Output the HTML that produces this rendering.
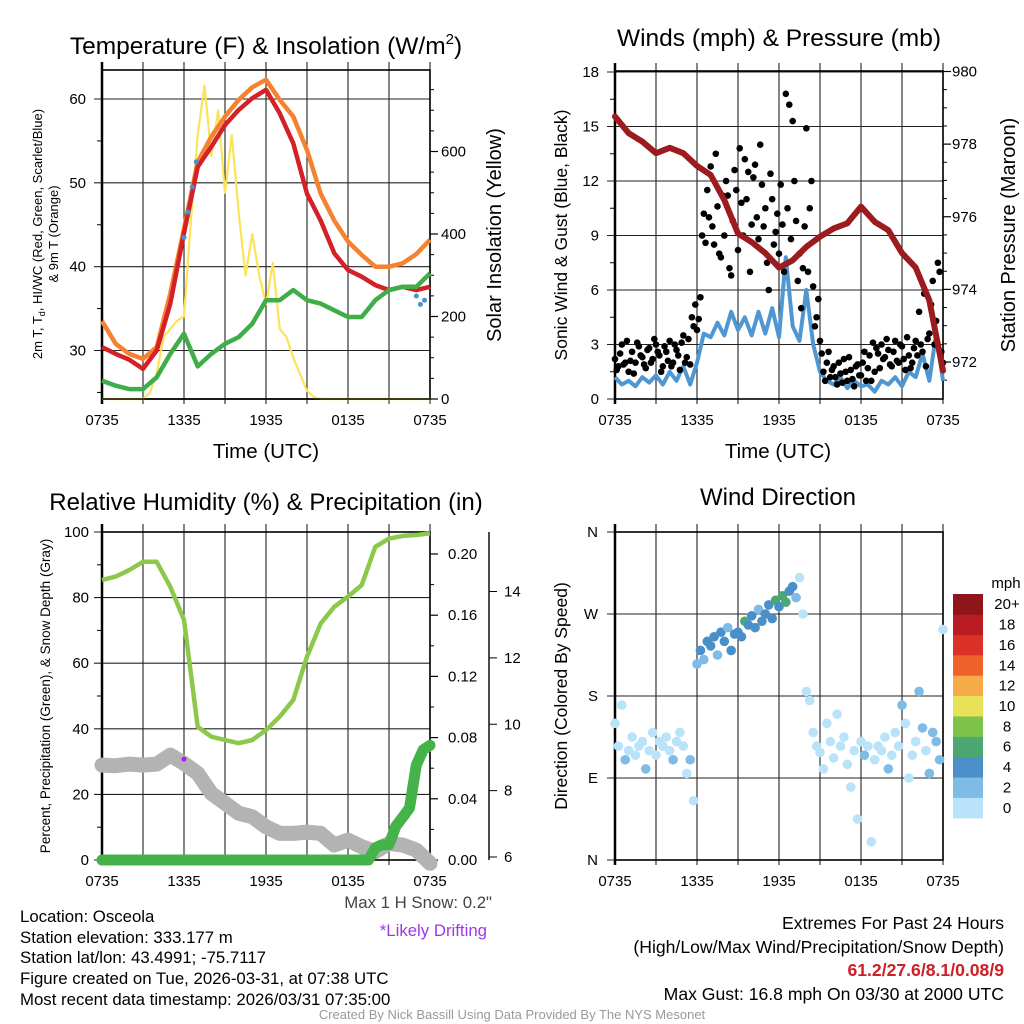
<!DOCTYPE html>
<html><head><meta charset="utf-8"><style>
html,body{margin:0;padding:0;background:#fff;}
svg{display:block;font-family:"Liberation Sans",Arial,sans-serif;}
</style></head><body>
<svg id="chart" width="1024" height="1024" viewBox="0 0 1024 1024" xmlns="http://www.w3.org/2000/svg">
<rect x="0" y="0" width="1024" height="1024" fill="#fff"/>
<!-- titles -->
<text x="266" y="54" font-size="24.5" text-anchor="middle">Temperature (F) &amp; Insolation (W/m<tspan font-size="15" dy="-10">2</tspan><tspan dy="10">)</tspan></text>
<text x="779" y="46" font-size="24.5" text-anchor="middle">Winds (mph) &amp; Pressure (mb)</text>
<text x="266" y="510" font-size="24" text-anchor="middle">Relative Humidity (%) &amp; Precipitation (in)</text>
<text x="778" y="505" font-size="24" text-anchor="middle">Wind Direction</text>
<!-- axis titles -->
<text transform="translate(42,234) rotate(-90)" font-size="13" text-anchor="middle">2m T, T<tspan font-size="9" dy="3">d</tspan><tspan dy="-3">, HI/WC (Red, Green, Scarlet/Blue)</tspan></text>
<text transform="translate(58,234) rotate(-90)" font-size="13" text-anchor="middle">&amp; 9m T (Orange)</text>
<text transform="translate(501,235) rotate(-90)" font-size="20" text-anchor="middle">Solar Insolation (Yellow)</text>
<text x="266" y="458" font-size="20.5" text-anchor="middle">Time (UTC)</text>
<text transform="translate(567,235) rotate(-90)" font-size="17.5" text-anchor="middle">Sonic Wind &amp; Gust (Blue, Black)</text>
<text transform="translate(1015,235) rotate(-90)" font-size="20" text-anchor="middle">Station Pressure (Maroon)</text>
<text x="778" y="458" font-size="20.5" text-anchor="middle">Time (UTC)</text>
<text transform="translate(50,696) rotate(-90)" font-size="13.5" text-anchor="middle">Percent, Precipitation (Green), &amp; Snow Depth (Gray)</text>
<text transform="translate(567,696) rotate(-90)" font-size="17.5" text-anchor="middle">Direction (Colored By Speed)</text>
<!-- footer -->
<g font-size="16.8">
<text x="20" y="922">Location: Osceola</text>
<text x="20" y="943">Station elevation: 333.177 m</text>
<text x="20" y="963">Station lat/lon: 43.4991; -75.7117</text>
<text x="20" y="984">Figure created on Tue, 2026-03-31, at 07:38 UTC</text>
<text x="20" y="1005">Most recent data timestamp: 2026/03/31 07:35:00</text>
</g>
<text x="492" y="908" font-size="16.8" fill="#444" text-anchor="end">Max 1 H Snow: 0.2"</text>
<text x="487" y="936" font-size="16.8" fill="#a235e8" text-anchor="end">*Likely Drifting</text>
<g font-size="17.6" text-anchor="end">
<text x="1004" y="929">Extremes For Past 24 Hours</text>
<text x="1004" y="953">(High/Low/Max Wind/Precipitation/Snow Depth)</text>
<text x="1004" y="976" fill="#cc1f26" font-weight="bold">61.2/27.6/8.1/0.08/9</text>
<text x="1004" y="1000">Max Gust: 16.8 mph On 03/30 at 2000 UTC</text>
</g>
<text x="512" y="1019" font-size="13" fill="#999" text-anchor="middle">Created By Nick Bassill Using Data Provided By The NYS Mesonet</text>
</svg>
<script>
// ---------- DATA ----------
const xTickLabels = ["0735","1335","1935","0135","0735"];
const hoursHourly = [0,1,2,3,4,5,6,7,8,9,10,11,12,13,14,15,16,17,18,19,20,21,22,23,24];
const temp2m = [30.4,29.6,28.9,27.8,30.0,35.6,44.0,51.9,54.3,56.9,58.7,60.1,61.1,58.3,54.7,48.7,45.5,41.6,39.6,38.8,37.8,37.2,37.6,37.2,37.6];
const temp9m = [33.5,30.8,29.6,29.0,30.4,36.8,44.5,52.5,55.5,57.9,59.9,61.4,62.3,59.9,57.9,53.9,48.7,45.5,43.0,41.4,40.0,40.0,40.4,41.5,43.2];
const dewpoint = [26.4,25.8,25.4,25.4,26.8,29.6,32.0,28.1,29.6,30.8,31.6,33.2,36.0,36.0,37.2,36.0,35.6,34.8,34.0,34.0,36.0,37.2,37.6,37.6,39.2];
const solar = [0,0,0,0,0,0,0,15,60,150,170,190,200,430,640,760,590,700,500,640,450,300,400,300,230,330,170,150,100,60,20,5,0,0,0,0,0,0,0,0,0,0,0,0,0,0,0,0,0];
const windChillHours = [6.0,6.3,6.6,6.9,23.0,23.3,23.6];
const windChillVals = [43.5,46.5,49.5,52.5,36.5,35.5,36.0];
const tempLeftTicks = [30,40,50,60];
const solarTicks = [0,200,400,600];

const windHalfHour = [1.2,0.8,1.0,0.7,1.2,0.9,1.3,0.8,1.5,1.0,1.8,0.8,2.0,3.6,3.4,4.2,3.5,4.8,3.8,4.5,3.5,4.8,3.6,5.0,3.4,7.8,4.0,3.2,6.0,3.0,1.5,1.0,0.8,1.2,0.6,1.0,0.7,0.8,0.4,1.0,0.8,1.2,0.7,1.5,1.2,2.5,1.0,3.6,1.0];
const gustQuarter = [2.2,1.8,3.0,2.0,1.5,2.6,2.0,2.9,2.3,1.7,2.8,2.2,3.0,2.4,1.8,2.6,3.2,2.0,2.7,1.6,3.5,2.3,1.9,4.0,3.8,5.6,10.2,11.5,12.8,8.5,10.6,7.8,9.0,11.2,6.8,12.6,8.2,10.8,13.2,12.5,9.6,12.9,8.8,11.8,10.5,6.0,11.0,9.2,8.0,9.6,16.8,16.2,15.3,9.8,8.0,7.2,14.9,10.5,6.2,4.5,3.2,1.5,2.0,1.2,1.8,0.8,1.4,2.2,1.0,1.6,0.7,1.9,1.3,2.6,1.7,1.0,1.5,2.5,3.0,2.3,2.7,1.8,3.2,2.0,2.9,1.6,2.4,2.0,3.2,4.8,2.6,1.8,3.6,6.5,4.3,7.0,2.0];
const gustQuarterOffset = [1.6,2.5,1.9,3.2,2.1,1.4,3.1,2.4,1.9,2.7,2.0,3.3,2.6,1.5,2.9,2.1,1.8,3.0,2.4,3.1,2.0,3.3,4.5,5.2,4.4,9.0,8.6,10.0,9.5,13.5,8.0,11.2,12.0,7.2,9.8,11.5,13.8,9.0,11.0,7.0,12.2,10.0,14.0,9.5,7.5,12.4,8.5,10.2,11.8,7.0,10.5,8.8,12.0,6.5,5.0,9.5,7.0,12.0,4.0,5.5,2.5,1.0,2.6,1.6,1.2,2.0,0.9,1.5,2.3,1.1,1.8,1.3,2.0,1.0,2.4,3.1,2.8,1.7,2.2,3.3,1.9,2.6,2.1,3.0,2.2,3.4,1.7,2.8,2.4,3.0,5.8,3.3,5.2,3.0,7.5,2.6];
const pressure = [978.76,978.3,978.07,977.75,977.9,977.75,977.4,977.15,976.46,975.54,975.3,975.0,974.6,974.8,975.17,975.45,975.68,975.82,976.28,975.86,975.63,975.0,974.6,973.7,971.76];
const windTicks = [0,3,6,9,12,15,18];
const pressureTicks = [972,974,976,978,980];

const rh = [85.4,86.4,88.4,90.9,90.9,83.3,73.2,40.6,37.6,36.6,35.6,36.6,39.6,43.7,48.8,62.0,72.1,77.2,80.3,83.8,95.5,98.0,98.8,99.1,99.6];
const snowDepth = [8.77,8.75,8.8,8.77,8.8,9.07,8.82,8.52,7.92,7.62,7.32,7.21,6.91,6.71,6.71,6.75,6.71,6.36,6.51,6.31,6.16,6.41,6.36,6.21,5.81];
const precipHalfHour = [0,0,0,0,0,0,0,0,0,0,0,0,0,0,0,0,0,0,0,0,0,0,0,0,0,0,0,0,0,0,0,0,0,0,0,0,0,0,0,0,0.008,0.010,0.010,0.022,0.028,0.034,0.062,0.072,0.075];
const driftHour = 6.0, driftSnow = 8.95;
const rhTicks = [0,20,40,60,80,100];
const precipTicks = ["0.00","0.04","0.08","0.12","0.16","0.20"];
const snowTicks = [6,8,10,12,14];

const dirQuarter = [150,125,170,110,120,135,115,125,130,100,120,140,115,130,125,135,120,110,130,140,125,95,110,65,215,230,220,240,235,245,225,250,240,255,230,248,250,245,262,258,268,255,275,262,270,280,265,285,278,290,283,295,300,288,310,270,185,175,140,125,118,100,150,130,112,160,125,135,105,80,120,45,130,115,125,20,110,125,120,135,100,115,140,125,170,150,90,115,130,185,145,120,95,140,130,110,253];
const speedQuarter = [1.0,0.8,1.2,2.5,0.9,1.1,0.7,1.3,1.0,2.6,1.2,0.8,1.1,1.4,0.9,1.0,1.2,2.5,1.0,0.8,1.4,1.0,2.4,0.9,3.5,4.2,3.8,4.5,4.0,4.6,2.5,4.2,4.4,3.9,4.8,4.1,4.3,4.0,6.2,4.5,4.7,4.2,2.6,4.4,4.1,4.9,4.3,6.5,4.8,6.3,7.0,4.6,4.2,2.5,1.2,1.0,1.0,0.9,1.3,0.8,1.1,0.7,1.0,1.2,0.9,1.1,0.8,1.0,1.2,0.9,0.6,1.0,0.8,2.4,1.1,1.0,1.3,0.9,1.0,1.2,2.5,1.0,1.2,0.8,2.6,1.1,0.9,1.5,1.0,2.4,3.0,1.2,2.5,3.8,2.6,3.5,1.0];
const dirTickLabels = ["N","E","S","W","N"];
const speedLabels = ["0","2","4","6","8","10","12","14","16","18","20+"];
const speedColors = ["#b8e3f8","#7ebbe6","#4a8fc8","#4aa870","#7dc24a","#e8e25a","#f6ab48","#f0622c","#dc3128","#b91d23","#8e151a"];

// ---------- DRAW ----------
const svg = document.getElementById('chart');
const NS = 'http://www.w3.org/2000/svg';
function mk(tag, attrs, parent){ const e=document.createElementNS(NS,tag); for(const k in attrs) e.setAttribute(k,attrs[k]); (parent||svg).appendChild(e); return e; }
function lin(d0,d1,r0,r1){ return v => r0 + (v-d0)*(r1-r0)/(d1-d0); }
function pathD(xs, ys, fx, fy){ return xs.map((h,i)=>(i?'L':'M')+fx(h).toFixed(1)+','+fy(ys[i]).toFixed(1)).join(''); }
function seq(n, step){ return Array.from({length:n},(_,i)=>i*step); }

function frame(g, x0,x1,y0,y1, yvals, fy, leftLabels, labelX){
  for(let i=0;i<=8;i++){ const x=x0+i*(x1-x0)/8;
    const l=mk('line',{x1:x,x2:x,y1:y0-8,y2:y1+5,stroke:'#222','stroke-width':1.1},g);
      }
  yvals.forEach((v,i)=>{ const y=fy(v);
    const l=mk('line',{x1:x0-8,x2:x1,y1:y,y2:y,stroke:'#222','stroke-width':1.1},g);
     
    if(leftLabels){ const t=mk('text',{x:labelX,y:y+5,'font-size':15,'text-anchor':'end'},g); t.textContent=leftLabels[i];
        } });
  const r=mk('rect',{x:x0,y:y0,width:x1-x0,height:y1-y0,fill:'none',stroke:'#000','stroke-width':1.6},g);
   
  mk('line',{x1:x0,x2:x0,y1:y0-8,y2:y1+5,stroke:'#000','stroke-width':2.5},g);
  xTickLabels.forEach((s,i)=>{ const t=mk('text',{x:x0+i*(x1-x0)/4,y:y1+26,'font-size':15,'text-anchor':'middle'},g); t.textContent=s;
      });
}
function rightAxis(g,x,fy,vals,labels,lx,minor){
  vals.forEach((v,i)=>{ mk('line',{x1:x,x2:x+8,y1:fy(v),y2:fy(v),stroke:'#000','stroke-width':1.2},g);
    const t=mk('text',{x:lx,y:fy(v)+5,'font-size':15},g); t.textContent=labels[i];
      });
  (minor||[]).forEach(v=>mk('line',{x1:x,x2:x+4,y1:fy(v),y2:fy(v),stroke:'#000','stroke-width':1},g));
}

// Panel 1
{
  const g=mk('g',{});  
  const x0=102,x1=430,y0=70,y1=399;
  const fx=lin(0,24,x0,x1), fy=lin(30,60,350.5,99), fs=lin(0,200,399,316.5);
  frame(g,x0,x1,y0,y1,tempLeftTicks,fy,tempLeftTicks,86);
  [25,35,45,55].forEach(v=>mk('line',{x1:x0-5,x2:x0,y1:fy(v),y2:fy(v),stroke:'#000'},g));
  rightAxis(g,x1,fs,solarTicks,solarTicks,441,[50,100,150,250,300,350,450,500,550,650,700,750]);
  const sh=seq(solar.length,0.5);
  let p=mk('path',{d:pathD(sh,solar,fx,fs),fill:'none',stroke:'#fbe35a','stroke-width':2.2,'stroke-linejoin':'round'},g);
   
  p=mk('path',{d:pathD(hoursHourly,temp9m,fx,fy),fill:'none',stroke:'#f58231','stroke-width':4.5,'stroke-linejoin':'round'},g);
   
  p=mk('path',{d:pathD(hoursHourly,temp2m,fx,fy),fill:'none',stroke:'#d42027','stroke-width':4.5,'stroke-linejoin':'round'},g);
   
  p=mk('path',{d:pathD(hoursHourly,dewpoint,fx,fy),fill:'none',stroke:'#3fae49','stroke-width':4.5,'stroke-linejoin':'round'},g);
   
  windChillHours.forEach((h,i)=>{ const c=mk('circle',{cx:fx(h),cy:fy(windChillVals[i]),r:2.5,fill:'#4a90cf'},g);
      });
  mk('line',{x1:x0,x2:x1,y1:y1,y2:y1,stroke:'#000','stroke-width':1.4},g);
}
// Panel 2
{
  const g=mk('g',{});  
  const x0=615,x1=943,y0=71,y1=399;
  const fx=lin(0,24,x0,x1), fy=lin(0,18,399,72), fp=lin(972,980,362,71.5);
  frame(g,x0,x1,y0,y1,windTicks,fy,windTicks,599);
  [1.5,4.5,7.5,10.5,13.5,16.5].forEach(v=>mk('line',{x1:x0-5,x2:x0,y1:fy(v),y2:fy(v),stroke:'#000'},g));
  rightAxis(g,x1,fp,pressureTicks,pressureTicks,952,[971.5,972.5,973,973.5,974.5,975,975.5,976.5,977,977.5,978.5,979,979.5]);
  let p=mk('path',{d:pathD(seq(windHalfHour.length,0.5),windHalfHour,fx,fy),fill:'none',stroke:'#4f97d3','stroke-width':4,'stroke-linejoin':'round'},g);
   
  gustQuarter.forEach((v,i)=>{ const c=mk('circle',{cx:fx(i*0.25),cy:fy(v),r:3.3,fill:'#000'},g);
      });
  gustQuarterOffset.forEach((v,i)=>{ const c=mk('circle',{cx:fx(i*0.25+0.125),cy:fy(v),r:3.3,fill:'#000'},g);
      });
  p=mk('path',{d:pathD(hoursHourly,pressure,fx,fp),fill:'none',stroke:'#9b1b1f','stroke-width':6,'stroke-linejoin':'round','stroke-linecap':'round'},g);
   
}
// Panel 3
{
  const g=mk('g',{});  
  const x0=102,x1=430,y0=532,y1=860;
  const fx=lin(0,24,x0,x1), fy=lin(0,100,860,532), fpr=lin(0,0.2,860,554), fsn=lin(6,14,857,591.5);
  frame(g,x0,x1,y0,y1,rhTicks,fy,rhTicks,89);
  [10,30,50,70,90].forEach(v=>mk('line',{x1:x0-5,x2:x0,y1:fy(v),y2:fy(v),stroke:'#000'},g));
  rightAxis(g,x1,fpr,[0,0.04,0.08,0.12,0.16,0.2],precipTicks,448,[0.02,0.06,0.1,0.14,0.18]);
  mk('line',{x1:489,x2:489,y1:532,y2:860,stroke:'#000','stroke-width':1.4},g);
  snowTicks.forEach(v=>{ mk('line',{x1:489,x2:497,y1:fsn(v),y2:fsn(v),stroke:'#000'},g);
    const t=mk('text',{x:504,y:fsn(v)+5,'font-size':15},g); t.textContent=v;
      });
  let p=mk('path',{d:pathD(hoursHourly,snowDepth,fx,fsn),fill:'none',stroke:'#b3b3b3','stroke-width':15,'stroke-linejoin':'round','stroke-linecap':'round'},g);
   
  p=mk('path',{d:pathD(hoursHourly,rh,fx,fy),fill:'none',stroke:'#8dc84b','stroke-width':4.5,'stroke-linejoin':'round'},g);
   
  p=mk('path',{d:pathD(seq(precipHalfHour.length,0.5),precipHalfHour,fx,fpr),fill:'none',stroke:'#44b349','stroke-width':11,'stroke-linejoin':'round','stroke-linecap':'round'},g);
   
  const c=mk('circle',{cx:fx(driftHour),cy:fsn(driftSnow),r:2.5,fill:'#a020f0'},g);
   
}
// Panel 4
{
  const g=mk('g',{});  
  const x0=615,x1=943,y0=532,y1=860;
  const fx=lin(0,24,x0,x1), fy=lin(0,360,860,532);
  frame(g,x0,x1,y0,y1,[0,90,180,270,360],fy,dirTickLabels,598);
  dirQuarter.forEach((d,i)=>{ const idx=Math.min(10,Math.floor(speedQuarter[i]/2));
    const c=mk('circle',{cx:fx(i*0.25),cy:fy(d),r:4.8,fill:speedColors[idx]},g);
      });
  const cb=mk('g',{});  
  const t0=mk('text',{x:1006,y:588,'font-size':15,'text-anchor':'middle'},cb); t0.textContent='mph';
  const bh=(818-594)/11;
  speedColors.forEach((col,i)=>{ const j=10-i; const y=594+j*bh;
    const r=mk('rect',{x:953,y:y,width:30,height:bh+0.3,fill:col},cb);
     
    const t=mk('text',{x:1007,y:y+bh/2+5,'font-size':15,'text-anchor':'middle'},cb); t.textContent=speedLabels[i];
      });
}
</script>
</body></html>
